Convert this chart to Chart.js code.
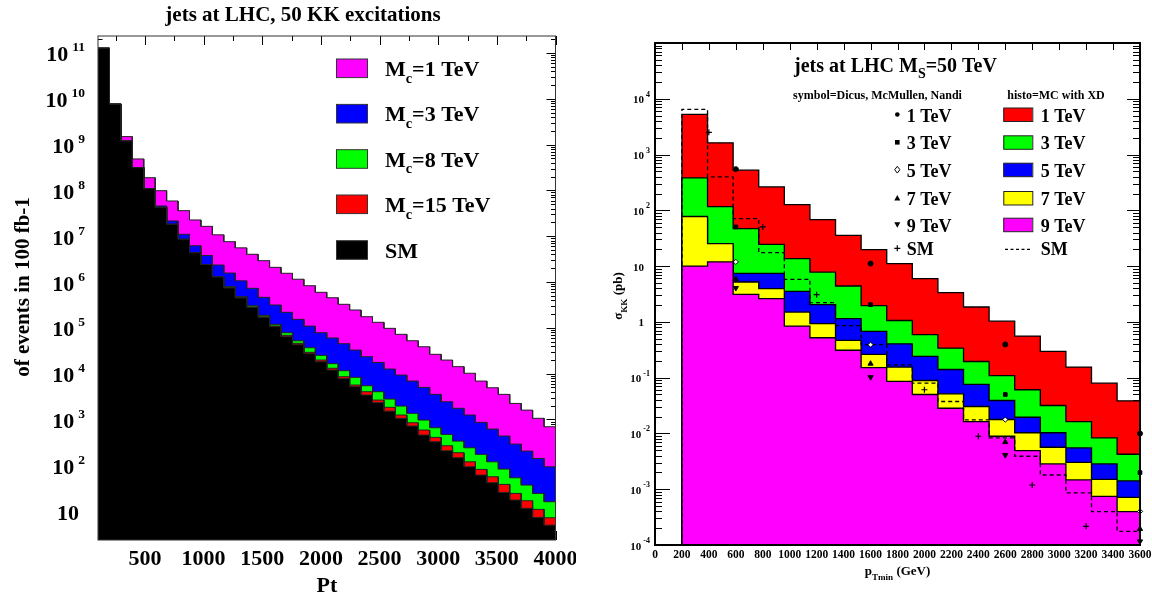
<!DOCTYPE html>
<html><head><meta charset="utf-8">
<script src="https://cdn.jsdelivr.net/npm/chart.js@4.4.1/dist/chart.umd.min.js"></script>
<style>
html,body{margin:0;padding:0;background:#fff;width:1152px;height:598px;overflow:hidden}
canvas{position:absolute;top:0}
#c1{left:0}#c2{left:576px}
</style></head><body>
<canvas id="c1" width="576" height="598"></canvas>
<canvas id="c2" width="576" height="598"></canvas>
<script>
// ================= LEFT PANEL DATA (events in 100 fb-1) =================
const LEFT_BIN_EDGES = [100,197.5,295,392.5,490,587.5,685,782.5,880,977.5,1075,1172.5,1270,1367.5,1465,1562.5,1660,1757.5,1855,1952.5,2050,2147.5,2245,2342.5,2440,2537.5,2635,2732.5,2830,2927.5,3025,3122.5,3220,3317.5,3415,3512.5,3610,3707.5,3805,3902.5,4000];
const SM_EVENTS = [1.27e11,7.6e9,1.2e9,3.13e8,1.09e8,4.27e7,1.82e7,8.55e6,4.36e6,2.4e6,1.29e6,7.4e5,4.48e5,2.8e5,1.69e5,1.06e5,6.4e4,4.28e4,2.72e4,1.82e4,1.2e4,7.74e3,5.18e3,3.41e3,2.32e3,1.52e3,1.06e3,718,456,326,207,146,92.7,61.1,41.5,25.6,17.4,11.5,7.28,4.94];
const MC15_EVENTS = [1.27e11,7.6e9,1.2e9,3.13e8,1.09e8,4.27e7,1.82e7,8.55e6,4.36e6,2.4e6,1.29e6,7.5e5,4.57e5,2.85e5,1.74e5,1.10e5,6.86e4,4.59e4,2.92e4,1.98e4,1.31e4,8.55e3,5.64e3,4.03e3,2.65e3,1.84e3,1.25e3,847,587,406,267,188,119,81.3,56.1,38.3,24.3,16.8,10.9,7.14];
const MC8_EVENTS = [1.27e11,7.6e9,1.2e9,3.13e8,1.09e8,4.27e7,1.82e7,8.55e6,4.36e6,2.4e6,1.29e6,7.93e5,4.78e5,3.03e5,1.87e5,1.19e5,7.82e4,5.22e4,3.68e4,2.51e4,1.65e4,1.16e4,8.3e3,5.45e3,4.03e3,2.79e3,1.96e3,1.36e3,970,659,472,337,241,173,119,82.6,53.3,37,24.3,16];
const MC3_EVENTS = [1.27e11,7.6e9,1.2e9,3.13e8,1.09e8,4.56e7,2.15e7,1.1e7,6.17e6,3.78e6,2.35e6,1.57e6,1.06e6,7.28e5,4.63e5,3.15e5,2.18e5,1.53e5,1.09e5,7.82e4,6.0e4,4.5e4,3.27e4,2.34e4,1.76e4,1.26e4,9.31e3,6.89e3,5.0e3,3.53e3,2.43e3,1.75e3,1.25e3,865,617,435,290,204,141,92.7];
const MC1_EVENTS = [1.27e11,7.76e9,1.49e9,4.85e8,1.89e8,9.84e7,5.87e7,3.61e7,2.26e7,1.64e7,1.07e7,7.59e6,5.56e6,4.03e6,2.92e6,2.09e6,1.55e6,1.15e6,8.3e5,5.96e5,4.54e5,3.26e5,2.45e5,1.75e5,1.32e5,9.75e4,7.21e4,5.22e4,3.86e4,2.64e4,1.98e4,1.42e4,1.02e4,6.89e3,4.92e3,3.53e3,2.24e3,1.6e3,1.06e3,693];
const LEFT_X_TICKS = [500,1000,1500,2000,2500,3000,3500,4000];
const LEFT_Y_TICKS = [1e1,1e2,1e3,1e4,1e5,1e6,1e7,1e8,1e9,1e10,1e11];
const LEFT_LEGEND_LABELS = ['M_{c}=1 TeV','M_{c}=3 TeV','M_{c}=8 TeV','M_{c}=15 TeV','SM'];
const LEFT_LEGEND_COLORS = ['#ff00ff','#0000ff','#00ff00','#ff0000','#000000'];

// ================= RIGHT PANEL DATA (sigma_KK in pb) =================
const RIGHT_BIN_EDGES = [200,390,580,770,960,1150,1340,1530,1720,1910,2100,2290,2480,2670,2860,3050,3240,3430,3620];
const XD_1TEV = [5250,1620,525,263,127,68.4,35.7,19.8,11.1,5.96,3.34,1.85,1.03,0.556,0.295,0.155,0.0796,0.0385];
const XD_3TEV = [382,117,47.1,24.6,13.6,7.83,4.4,1.96,1.06,0.589,0.338,0.195,0.109,0.0607,0.0317,0.0163,0.00834,0.00424];
const XD_5TEV = [70,23,7.43,7.43,3.52,2.04,1.14,0.675,0.405,0.24,0.14,0.0755,0.039,0.0195,0.0103,0.0055,0.00284,0.00141];
const XD_7TEV = [77.5,25.4,5.19,3.94,1.5,0.93,0.466,0.261,0.155,0.089,0.0514,0.0304,0.0178,0.0103,0.00565,0.00304,0.0015,0.000716];
const XD_9TEV = [10,11.9,3.12,2.61,0.84,0.52,0.31,0.151,0.0855,0.0499,0.0283,0.0163,0.0089,0.00493,0.00284,0.00147,0.000746,0.000396];
const XD_SM = [6460,398,71.3,17.5,5.8,2.21,0.86,0.39,0.17,0.0796,0.0374,0.0175,0.00834,0.0039,0.0018,0.000857,0.000396,0.000175];
const DMN_PT = [600,1600,2600,3600];
const DMN_1TEV = [547,11.1,0.394,0.00995];
const DMN_3TEV = [50.4,2.04,0.0499,0.00199];
const DMN_5TEV = [11.9,0.39,0.0177,0.0004];
const DMN_7TEV = [5.8,0.178,0.007,0.000194];
const DMN_9TEV = [4.05,0.102,0.0041,0.000116];
const DMN_SM_PT = [400,800,1200,1600,2000,2400,2800,3200];
const DMN_SM = [2500,50.4,3.08,0.39,0.0607,0.0089,0.00119,0.000216];
const RIGHT_X_TICKS = [0,200,400,600,800,1000,1200,1400,1600,1800,2000,2200,2400,2600,2800,3000,3200,3400,3600];
const RIGHT_Y_TICKS = [1e-4,1e-3,1e-2,1e-1,1,10,1e2,1e3,1e4];
const RIGHT_LEGEND_LABELS = ['1 TeV','3 TeV','5 TeV','7 TeV','9 TeV','SM'];
const RIGHT_LEGEND_COLORS = ['#ff0000','#00ff00','#0000ff','#ffff00','#ff00ff',null];
const RIGHT_SYMBOLS = ['circle','rect','rectRot','triangle','triangleDown','cross'];

// ================= helpers =================
const SERIF = '"Liberation Serif","Times New Roman",serif';
function histo(edges, vals, floor){
  const pts = [{x: edges[0], y: floor}];
  vals.forEach((v, i) => { pts.push({x: edges[i], y: v}, {x: edges[i+1], y: v}); });
  pts.push({x: edges[vals.length], y: floor});
  return pts;
}
function pairs(xs, ys){ return xs.map((x, i) => ({x, y: ys[i]})); }
function richParts(s){
  const parts = []; const re = /_\{([^}]*)\}/g; let last = 0, m;
  while ((m = re.exec(s))) {
    if (m.index > last) parts.push({t: s.slice(last, m.index), sub: false});
    parts.push({t: m[1], sub: true}); last = re.lastIndex;
  }
  if (last < s.length) parts.push({t: s.slice(last), sub: false});
  return parts;
}
function drawRich(ctx, s, x, y, size, align, subScale, subDrop){
  const parts = richParts(s);
  const fontOf = p => 'bold ' + (p.sub ? size * subScale : size) + 'px ' + SERIF;
  let w = 0;
  parts.forEach(p => { ctx.font = fontOf(p); p.w = ctx.measureText(p.t).width; w += p.w; });
  let cx = align === 'center' ? x - w / 2 : (align === 'right' ? x - w : x);
  ctx.textAlign = 'left'; ctx.textBaseline = 'alphabetic'; ctx.fillStyle = '#000';
  parts.forEach(p => { ctx.font = fontOf(p); ctx.fillText(p.t, cx, y + (p.sub ? size * subDrop : 0)); cx += p.w; });
}
// power-of-ten tick labels drawn at the log scale's own tick positions
function drawPowLabels(chart, o){
  const {ctx, scales: {y}} = chart;
  ctx.save(); ctx.fillStyle = '#000'; ctx.textBaseline = 'alphabetic'; ctx.textAlign = 'right';
  y.ticks.forEach(t => {
    const py = y.getPixelForValue(t.value);
    const e = Math.round(Math.log10(t.value));
    if (e === 0 || e === 1) {
      ctx.font = 'bold ' + o.base + 'px ' + SERIF;
      ctx.fillText(e === 0 ? '1' : '10', o.rightPlain, py + o.baseDrop);
    } else {
      const ex = String(e);
      ctx.font = 'bold ' + o.exp + 'px ' + SERIF;
      const ew = ctx.measureText(ex).width;
      ctx.fillText(ex, o.rightExp, py + o.expDrop);
      ctx.font = 'bold ' + o.base + 'px ' + SERIF;
      ctx.fillText('10', o.rightExp - ew - o.gap, py + o.baseDrop);
    }
  });
  ctx.restore();
}
function drawTicks(chart, o){
  const {ctx, chartArea: a, scales: {x, y}} = chart;
  ctx.save(); ctx.strokeStyle = '#000'; ctx.lineWidth = o.tickWidth; ctx.beginPath();
  for (let v = Math.ceil(x.min / o.xMinorStep) * o.xMinorStep; v <= x.max + 1e-6; v += o.xMinorStep) {
    const px = Math.round(x.getPixelForValue(v)) + 0.5;
    const r = v / o.xMajorStep;
    const len = Math.abs(r - Math.round(r)) < 1e-6 ? o.xMajorLen : o.xMinorLen;
    ctx.moveTo(px, a.top); ctx.lineTo(px, a.top + len);
    ctx.moveTo(px, a.bottom); ctx.lineTo(px, a.bottom - len);
  }
  const e0 = Math.floor(Math.log10(y.min)), e1 = Math.ceil(Math.log10(y.max));
  for (let e = e0; e <= e1; e++) for (let m = 1; m < 10; m++) {
    const v = m * Math.pow(10, e);
    if (v < y.min * 0.999 || v > y.max * 1.001) continue;
    const py = Math.round(y.getPixelForValue(v)) + 0.5;
    ctx.moveTo(a.left, py); ctx.lineTo(a.left + (m === 1 ? o.yMajorLen : o.yMinorLen), py);
    ctx.moveTo(a.right, py); ctx.lineTo(a.right - (m === 1 ? o.yMajorLenR : o.yMinorLen), py);
  }
  ctx.stroke(); ctx.restore();
}
function drawFrame(chart, w, color){
  const {ctx, chartArea: a} = chart;
  ctx.save(); ctx.strokeStyle = color; ctx.lineWidth = w;
  ctx.strokeRect(a.left, a.top, a.right - a.left, a.bottom - a.top); ctx.restore();
}
function drawMarker(ctx, style, x, y, r){
  ctx.save(); ctx.fillStyle = '#000'; ctx.strokeStyle = '#000'; ctx.lineWidth = 1; ctx.beginPath();
  if (style === 'circle') { ctx.arc(x, y, r, 0, Math.PI * 2); ctx.fill(); }
  else if (style === 'rect') { ctx.fillRect(x - r, y - r, 2 * r, 2 * r); }
  else if (style === 'rectRot') { ctx.moveTo(x, y - r * 1.3); ctx.lineTo(x + r, y); ctx.lineTo(x, y + r * 1.3); ctx.lineTo(x - r, y); ctx.closePath(); ctx.fillStyle = '#fff'; ctx.fill(); ctx.stroke(); }
  else if (style === 'triangle') { ctx.moveTo(x, y - r); ctx.lineTo(x + r, y + r * 0.8); ctx.lineTo(x - r, y + r * 0.8); ctx.closePath(); ctx.fill(); }
  else if (style === 'triangleDown') { ctx.moveTo(x, y + r); ctx.lineTo(x + r, y - r * 0.8); ctx.lineTo(x - r, y - r * 0.8); ctx.closePath(); ctx.fill(); }
  else if (style === 'cross') { ctx.moveTo(x - r, y); ctx.lineTo(x + r, y); ctx.moveTo(x, y - r); ctx.lineTo(x, y + r); ctx.lineWidth = 1.2; ctx.stroke(); }
  ctx.restore();
}
const tickFont = size => ({family: SERIF, weight: 'bold', size});
const plainNum = v => String(v);

// ================= LEFT CHART =================
const LEFT_Y_MIN = 2.34, LEFT_Y_MAX = 2.34e11;
function leftHist(vals, color){
  return {data: histo(LEFT_BIN_EDGES, vals, LEFT_Y_MIN), borderColor: '#222', borderWidth: 1,
    backgroundColor: color, fill: 'start', pointRadius: 0, tension: 0};
}
const leftDeco = {
  id: 'leftDeco',
  beforeDatasetsDraw(chart){ drawTicks(chart, {tickWidth: 1, xMinorStep: 250, xMajorStep: 500, xMajorLen: 9, xMinorLen: 5, yMajorLen: 9, yMinorLen: 4.5, yMajorLenR: 9}); },
  afterDatasetsDraw(chart){ drawFrame(chart, 1, '#333'); },
  afterDraw(chart){
    const ctx = chart.ctx;
    drawPowLabels(chart, {base: 22, exp: 13.5, rightExp: 85, rightPlain: 79, gap: 4, baseDrop: 8.5, expDrop: -1.5});
    drawRich(ctx, 'jets at LHC, 50 KK excitations', 303, 21, 21, 'center', 0.7, 0.3);
    drawRich(ctx, 'Pt', 327, 592, 22, 'center', 0.7, 0.3);
    ctx.save(); ctx.translate(29, 287); ctx.rotate(-Math.PI / 2);
    drawRich(ctx, 'of events in 100 fb-1', 0, 0, 21, 'center', 0.7, 0.3); ctx.restore();
    const rows = [68.3, 113.7, 159, 204.3, 250];
    LEFT_LEGEND_LABELS.forEach((lab, i) => {
      ctx.save(); ctx.fillStyle = LEFT_LEGEND_COLORS[i]; ctx.strokeStyle = '#333'; ctx.lineWidth = 1;
      ctx.fillRect(336, rows[i] - 9.3, 31, 18.6); ctx.strokeRect(336.5, rows[i] - 9.3, 31, 18.6); ctx.restore();
      drawRich(ctx, lab, 385, rows[i] + 7.7, 22, 'left', 0.65, 0.3);
    });
  }
};
new Chart(document.getElementById('c1'), {
  type: 'line',
  data: {datasets: [
    leftHist(SM_EVENTS, '#000000'),
    leftHist(MC15_EVENTS, '#ff0000'),
    leftHist(MC8_EVENTS, '#00ff00'),
    leftHist(MC3_EVENTS, '#0000ff'),
    leftHist(MC1_EVENTS, '#ff00ff')
  ]},
  options: {
    responsive: false, animation: false, devicePixelRatio: 1, events: [],
    layout: {padding: {left: 0, right: 20.5, top: 36, bottom: 0}},
    plugins: {legend: {display: false}, tooltip: {enabled: false}, title: {display: false}},
    scales: {
      x: {type: 'linear', min: 100, max: 4000,
        afterFit(s){ s.height = 58; s.paddingLeft = 0; s.paddingRight = 0; },
        afterBuildTicks(s){ s.ticks = LEFT_X_TICKS.map(v => ({value: v})); },
        ticks: {callback: plainNum, autoSkip: false, maxRotation: 0, padding: 6, color: '#000', font: tickFont(22)},
        grid: {display: false, drawTicks: false}, border: {display: false}},
      y: {type: 'logarithmic', min: LEFT_Y_MIN, max: LEFT_Y_MAX,
        afterFit(s){ s.width = 98; s.paddingTop = 0; s.paddingBottom = 0; },
        afterBuildTicks(s){ s.ticks = LEFT_Y_TICKS.map(v => ({value: v})); },
        ticks: {display: false},
        grid: {display: false, drawTicks: false}, border: {display: false}}
    }
  },
  plugins: [leftDeco]
});

// ================= RIGHT CHART =================
const RIGHT_Y_MIN = 1e-4, RIGHT_Y_MAX = 1e5;
function rightHist(vals, color){
  return {data: histo(RIGHT_BIN_EDGES, vals, RIGHT_Y_MIN), borderColor: '#000', borderWidth: 1.3,
    backgroundColor: color, fill: 'start', pointRadius: 0, tension: 0};
}
function markers(xs, ys, style, r){
  const ds = {data: pairs(xs, ys), showLine: false, pointRadius: r, pointBorderColor: '#000',
    pointBackgroundColor: '#000', pointBorderWidth: 1, clip: false, pointStyle: style};
  if (style === 'rectRot') ds.pointBackgroundColor = '#fff';
  if (style === 'triangleDown') { ds.pointStyle = 'triangle'; ds.pointRotation = 180; }
  if (style === 'cross') ds.pointBorderWidth = 1.2;
  return ds;
}
const rightDeco = {
  id: 'rightDeco',
  beforeDatasetsDraw(chart){ drawTicks(chart, {tickWidth: 1, xMinorStep: 200, xMajorStep: 200, xMajorLen: 7, xMinorLen: 7, yMajorLen: 15, yMinorLen: 7, yMajorLenR: 13}); },
  afterDatasetsDraw(chart){ drawFrame(chart, 2, '#000'); },
  afterDraw(chart){
    const ctx = chart.ctx;
    drawPowLabels(chart, {base: 11, exp: 8, rightExp: 74, rightPlain: 68, gap: 2, baseDrop: 4.5, expDrop: -2});
    drawRich(ctx, 'jets at LHC M_{S}=50 TeV', 319.5, 72, 20, 'center', 0.7, 0.3);
    drawRich(ctx, 'symbol=Dicus, McMullen, Nandi', 301.5, 99, 12, 'center', 0.7, 0.3);
    drawRich(ctx, 'histo=MC with XD', 480, 99, 12, 'center', 0.7, 0.3);
    drawRich(ctx, 'p_{Tmin} (GeV)', 321.5, 575, 13, 'center', 0.7, 0.35);
    ctx.save(); ctx.translate(46, 296); ctx.rotate(-Math.PI / 2);
    drawRich(ctx, '\u03c3_{KK} (pb)', 0, 0, 13, 'center', 0.7, 0.35); ctx.restore();
    const rows = [115.5, 143.3, 170.7, 199, 225.7, 249.3];
    const sizes = [2.3, 2.3, 2.6, 3, 3, 3];
    RIGHT_LEGEND_LABELS.forEach((lab, i) => {
      drawMarker(ctx, RIGHT_SYMBOLS[i], 321.3, rows[i] - 1, sizes[i]);
      drawRich(ctx, lab, 330.7, rows[i] + 6, 18, 'left', 0.7, 0.3);
      if (RIGHT_LEGEND_COLORS[i]) {
        ctx.save(); ctx.fillStyle = RIGHT_LEGEND_COLORS[i]; ctx.strokeStyle = '#222'; ctx.lineWidth = 1;
        ctx.fillRect(427.3, rows[i] - 7.5, 29, 13.5); ctx.strokeRect(427.8, rows[i] - 7.5, 29, 13.5); ctx.restore();
      } else {
        ctx.save(); ctx.strokeStyle = '#000'; ctx.lineWidth = 1.2; ctx.setLineDash([3, 2.5]);
        ctx.beginPath(); ctx.moveTo(429, rows[i]); ctx.lineTo(456, rows[i]); ctx.stroke(); ctx.restore();
      }
      drawRich(ctx, lab, 464.7, rows[i] + 6, 18, 'left', 0.7, 0.3);
    });
  }
};
new Chart(document.getElementById('c2'), {
  type: 'line',
  data: {datasets: [
    markers(DMN_PT, DMN_1TEV, 'circle', 2.5),
    markers(DMN_PT, DMN_3TEV, 'rect', 2.6),
    markers(DMN_PT, DMN_5TEV, 'rectRot', 2.6),
    markers(DMN_PT, DMN_7TEV, 'triangle', 3),
    markers(DMN_PT, DMN_9TEV, 'triangleDown', 3),
    markers(DMN_SM_PT, DMN_SM, 'cross', 3),
    {data: histo(RIGHT_BIN_EDGES, XD_SM, RIGHT_Y_MIN), borderColor: '#000', borderWidth: 1.3,
      borderDash: [4, 3], fill: false, pointRadius: 0, tension: 0},
    rightHist(XD_9TEV, '#ff00ff'),
    rightHist(XD_7TEV, '#ffff00'),
    rightHist(XD_5TEV, '#0000ff'),
    rightHist(XD_3TEV, '#00ff00'),
    rightHist(XD_1TEV, '#ff0000')
  ]},
  options: {
    responsive: false, animation: false, devicePixelRatio: 1, events: [],
    layout: {padding: {left: 0, right: 12, top: 43, bottom: 0}},
    plugins: {legend: {display: false}, tooltip: {enabled: false}, title: {display: false}},
    scales: {
      x: {type: 'linear', min: 0, max: 3600,
        afterFit(s){ s.height = 53; s.paddingLeft = 0; s.paddingRight = 0; },
        afterBuildTicks(s){ s.ticks = RIGHT_X_TICKS.map(v => ({value: v})); },
        ticks: {callback: plainNum, autoSkip: false, maxRotation: 0, padding: 3, color: '#000', font: tickFont(11.5)},
        grid: {display: false, drawTicks: false}, border: {display: false}},
      y: {type: 'logarithmic', min: RIGHT_Y_MIN, max: RIGHT_Y_MAX,
        afterFit(s){ s.width = 79; s.paddingTop = 0; s.paddingBottom = 0; },
        afterBuildTicks(s){ s.ticks = RIGHT_Y_TICKS.map(v => ({value: v})); },
        ticks: {display: false},
        grid: {display: false, drawTicks: false}, border: {display: false}}
    }
  },
  plugins: [rightDeco]
});
</script>
</body></html>
